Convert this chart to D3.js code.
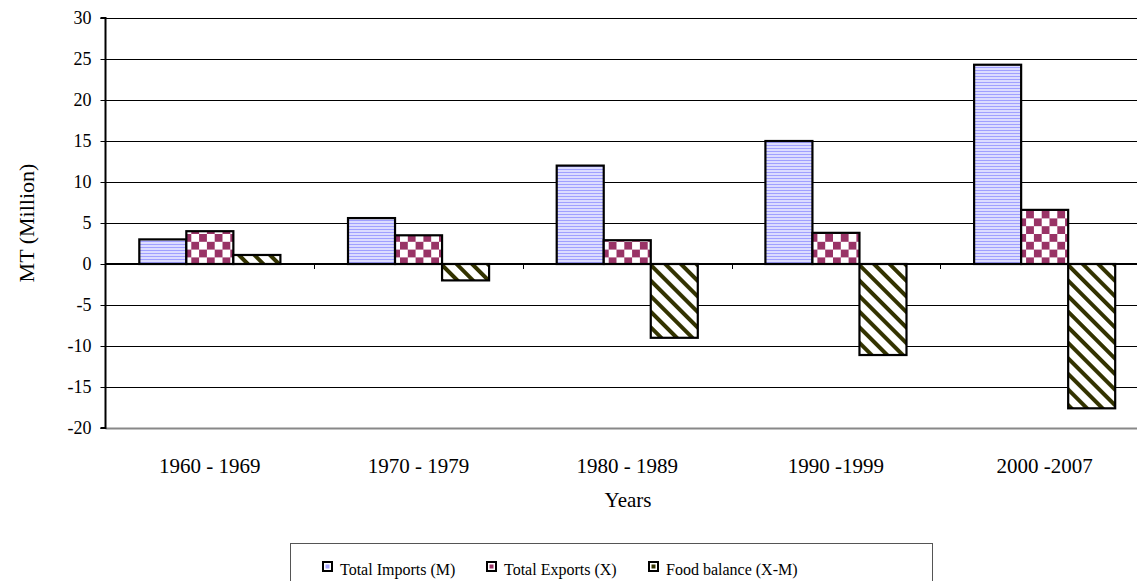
<!DOCTYPE html>
<html>
<head>
<meta charset="utf-8">
<script src="https://cdn.jsdelivr.net/npm/d3@7/dist/d3.min.js"></script>
<style>
html,body{margin:0;padding:0;background:#fff;overflow:hidden;}
svg{display:block;font-family:"Liberation Serif","Times New Roman",serif;}
</style>
</head>
<body>
<svg id="chart" width="1137" height="581"></svg>
<script>
const categories = ["1960 - 1969", "1970 - 1979", "1980 - 1989", "1990 -1999", "2000 -2007"];
const seriesNames = ["Total Imports (M)", "Total Exports (X)", "Food balance (X-M)"];
const imports = [3.0, 5.6, 12.0, 15.0, 24.3];
const exportsX = [4.0, 3.5, 2.9, 3.8, 6.6];
const foodBalance = [1.1, -2.0, -9.0, -11.1, -17.6];
const yTicks = [30, 25, 20, 15, 10, 5, 0, -5, -10, -15, -20];

const seriesValues = [imports, exportsX, foodBalance];
const patternIds = ["pImp", "pExp", "pFood"];

const svg = d3.select("#chart");
const defs = svg.append("defs");

// imports: lavender horizontal stripes
const p1 = defs.append("pattern").attr("id", "pImp").attr("patternUnits", "userSpaceOnUse")
  .attr("width", 8).attr("height", 3);
p1.append("rect").attr("width", 8).attr("height", 3).attr("fill", "#dcdcff");
p1.append("rect").attr("y", 1).attr("width", 8).attr("height", 1).attr("fill", "#a0a0ff");

// exports: checkerboard
const cs = 7.8;
const p2 = defs.append("pattern").attr("id", "pExp").attr("patternUnits", "userSpaceOnUse")
  .attr("width", cs * 2).attr("height", cs * 2);
p2.append("rect").attr("width", cs * 2).attr("height", cs * 2).attr("fill", "#ffffff");
p2.append("rect").attr("width", cs).attr("height", cs).attr("fill", "#993366");
p2.append("rect").attr("x", cs).attr("y", cs).attr("width", cs).attr("height", cs).attr("fill", "#993366");

// food: diagonal stripes "\"
const p3 = defs.append("pattern").attr("id", "pFood").attr("patternUnits", "userSpaceOnUse")
  .attr("width", 11).attr("height", 11).attr("patternTransform", "rotate(-45)");
p3.append("rect").attr("width", 11).attr("height", 11).attr("fill", "#ffffff");
p3.append("rect").attr("width", 4).attr("height", 11).attr("fill", "#333300");

const plotLeft = 105.5, plotRight = 1149, plotTop = 18, plotBottom = 428;

const y = d3.scaleLinear().domain([-20, 30]).range([plotBottom, plotTop]);
const x0 = d3.scaleBand().domain(categories).range([plotLeft, plotRight]).padding(0);
const cw = x0.bandwidth();
const x1 = d3.scaleBand().domain(d3.range(3)).range([cw * 0.162, cw * 0.838]).padding(0);

// gridlines
svg.append("g").selectAll("line").data(yTicks.filter(t => t !== -20 && t !== 0)).join("line")
  .attr("x1", plotLeft).attr("x2", 1137)
  .attr("y1", d => Math.round(y(d)) + 0.5).attr("y2", d => Math.round(y(d)) + 0.5)
  .attr("stroke", "#000").attr("stroke-width", 1);

// bottom border of plot area
svg.append("line").attr("x1", plotLeft).attr("x2", 1137)
  .attr("y1", y(-20) + 0.5).attr("y2", y(-20) + 0.5)
  .attr("stroke", "#888").attr("stroke-width", 2);

// bars
const groups = svg.append("g").selectAll("g").data(categories).join("g")
  .attr("transform", c => `translate(${x0(c)},0)`);
groups.selectAll("rect").data((c, i) => seriesValues.map((s, k) => ({k, v: s[i]}))).join("rect")
  .attr("x", d => x1(d.k))
  .attr("width", x1.bandwidth())
  .attr("y", d => y(Math.max(0, d.v)))
  .attr("height", d => Math.abs(y(d.v) - y(0)))
  .attr("fill", d => `url(#${patternIds[d.k]})`)
  .attr("stroke", "#000").attr("stroke-width", 2.2);

// zero axis with category ticks
svg.append("line").attr("x1", plotLeft).attr("x2", 1137)
  .attr("y1", y(0)).attr("y2", y(0)).attr("stroke", "#000").attr("stroke-width", 2);
svg.append("g").selectAll("line").data(categories.slice(1)).join("line")
  .attr("x1", c => Math.round(x0(c)) + 0.5).attr("x2", c => Math.round(x0(c)) + 0.5)
  .attr("y1", y(0)).attr("y2", y(0) + 5).attr("stroke", "#000").attr("stroke-width", 1);

// category labels (axis at bottom)
const xAxis = d3.axisBottom(x0).tickSize(0);
const xg = svg.append("g").attr("transform", `translate(0,${plotBottom})`).call(xAxis);
xg.select(".domain").remove();
xg.selectAll("text")
  .attr("dy", 0).attr("y", 45)
  .attr("font-family", "Liberation Serif").attr("font-size", 21).attr("fill", "#000");

// y axis
const yAxis = d3.axisLeft(y).tickValues(yTicks).tickSize(5).tickPadding(9).tickFormat(d => String(d));
const yg = svg.append("g").attr("transform", `translate(${plotLeft},0)`).call(yAxis);
yg.select(".domain").attr("stroke-width", 2).attr("d", `M-5,${plotTop}H0V${plotBottom}H-5`);
yg.selectAll(".tick line").attr("stroke-width", 1);
yg.selectAll("text").attr("font-family", "Liberation Serif").attr("font-size", 18).attr("fill", "#000");

// axis titles
svg.append("text").attr("transform", `translate(34,${(plotTop + plotBottom) / 2}) rotate(-90)`)
  .attr("text-anchor", "middle").attr("font-size", 22).text("MT (Million)");
svg.append("text").attr("x", 628).attr("y", 507).attr("text-anchor", "middle")
  .attr("font-size", 21).text("Years");

// legend
const legend = svg.append("g");
legend.append("rect").attr("x", 290.5).attr("y", 543.5).attr("width", 642).attr("height", 50)
  .attr("fill", "#fff").attr("stroke", "#555").attr("stroke-width", 1);
const legX = [323, 487, 649];
const swatchInner = ["#a8a8ff", "#993366", "#333300"];
const li = legend.selectAll("g.li").data(seriesNames).join("g").attr("class", "li")
  .attr("transform", (d, i) => `translate(${legX[i]},562)`);
li.append("rect").attr("x", 0).attr("y", 0).attr("width", 9).attr("height", 9)
  .attr("fill", "#fff").attr("stroke", "#000").attr("stroke-width", 2);
li.append("rect").attr("x", 2.5).attr("y", 2.5).attr("width", 4).attr("height", 4)
  .attr("fill", (d, i) => swatchInner[i]);
li.append("text").attr("x", 17).attr("y", 13).attr("font-size", 16).text(d => d);
</script>
</body>
</html>
